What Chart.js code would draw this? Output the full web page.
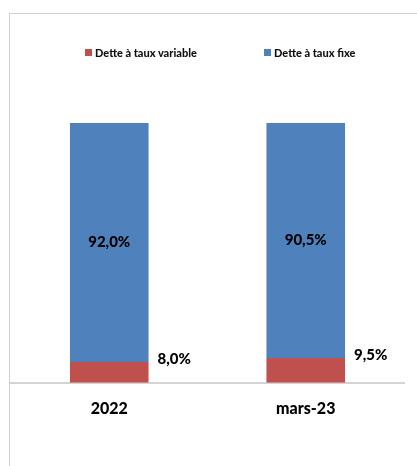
<!DOCTYPE html>
<html lang="fr">
<head>
    <meta charset="UTF-8">
    <script src="https://cdn.jsdelivr.net/npm/chart.js"></script>
    <title>Dette par type de taux</title>
    <style>
        body { margin: 0; background: #fff; font-family: Lato, "Open Sans", sans-serif; }
        .frame {
            position: absolute; left: 9px; top: 13px; width: 420px; height: 470px;
            border-left: 1px solid #d0d0d0; border-top: 1px solid #d0d0d0;
        }
        .wrap { position: absolute; left: 0; top: 0; width: 417px; height: 466px; }
        .legend-item {
            position: absolute; top: 46px; font: 900 11px Lato, sans-serif; color: #111;
            display: flex; align-items: center; white-space: nowrap;
        }
        .legend-item span.box { width: 7px; height: 7px; margin-right: 3px; display: inline-block; }
    </style>
</head>
<body>
    <div class="frame"></div>
    <div class="wrap">
        <canvas id="detteChart" width="417" height="466"></canvas>
    </div>
    <div id="legende"></div>
    <script>
        const categories = ['2022', 'mars-23'];
        const tauxVariable = [8.0, 9.5];
        const tauxFixe = [92.0, 90.5];
        const nomsSeries = ['Dette à taux variable', 'Dette à taux fixe'];
        const couleurs = ['#C0504D', '#4F81BD'];

        function fmt(v) {
            return v.toFixed(1).replace('.', ',') + '%';
        }

        // etiquettes de valeurs
        const etiquettes = {
            id: 'etiquettes',
            afterDatasetsDraw(chart) {
                const ctx = chart.ctx;
                ctx.save();
                ctx.font = '900 15px Lato, sans-serif';
                ctx.fillStyle = '#000';
                ctx.textBaseline = 'middle';
                chart.data.datasets.forEach((ds, i) => {
                    const meta = chart.getDatasetMeta(i);
                    meta.data.forEach((bar, j) => {
                        const txt = fmt(ds.data[j]);
                        if (i === 0) {
                            ctx.textAlign = 'left';
                            ctx.fillText(txt, bar.x + bar.width / 2 + 9, bar.y - 3);
                        } else {
                            ctx.textAlign = 'center';
                            ctx.fillText(txt, bar.x, (bar.y + bar.base) / 2);
                        }
                    });
                });
                ctx.restore();
            }
        };

        const ctx = document.getElementById('detteChart').getContext('2d');
        const detteChart = new Chart(ctx, {
            type: 'bar',
            data: {
                labels: categories,
                datasets: [{
                    label: nomsSeries[0],
                    data: tauxVariable,
                    backgroundColor: couleurs[0],
                    barPercentage: 0.8,
                    categoryPercentage: 0.5
                }, {
                    label: nomsSeries[1],
                    data: tauxFixe,
                    backgroundColor: couleurs[1],
                    barPercentage: 0.8,
                    categoryPercentage: 0.5
                }]
            },
            options: {
                responsive: false,
                animation: false,
                layout: { padding: { left: 11, right: 13, top: 123, bottom: 32 } },
                plugins: {
                    legend: { display: false },
                    tooltip: { enabled: false }
                },
                scales: {
                    x: {
                        stacked: true,
                        grid: { display: false, drawTicks: false },
                        border: { display: true, color: '#d4d4d4', width: 2 },
                        ticks: { padding: 16, color: '#000', font: { family: 'Lato', size: 16, weight: '900' } }
                    },
                    y: {
                        stacked: true,
                        display: false,
                        min: 0,
                        max: 100
                    }
                }
            },
            plugins: [etiquettes]
        });

        // legende en HTML
        const positions = [85, 264];
        const legende = document.getElementById('legende');
        nomsSeries.forEach((nom, i) => {
            const item = document.createElement('div');
            item.className = 'legend-item';
            item.style.left = positions[i] + 'px';
            item.innerHTML = '<span class="box" style="background:' + couleurs[i] + '"></span>' + nom;
            legende.appendChild(item);
        });
    </script>
</body>
</html>
